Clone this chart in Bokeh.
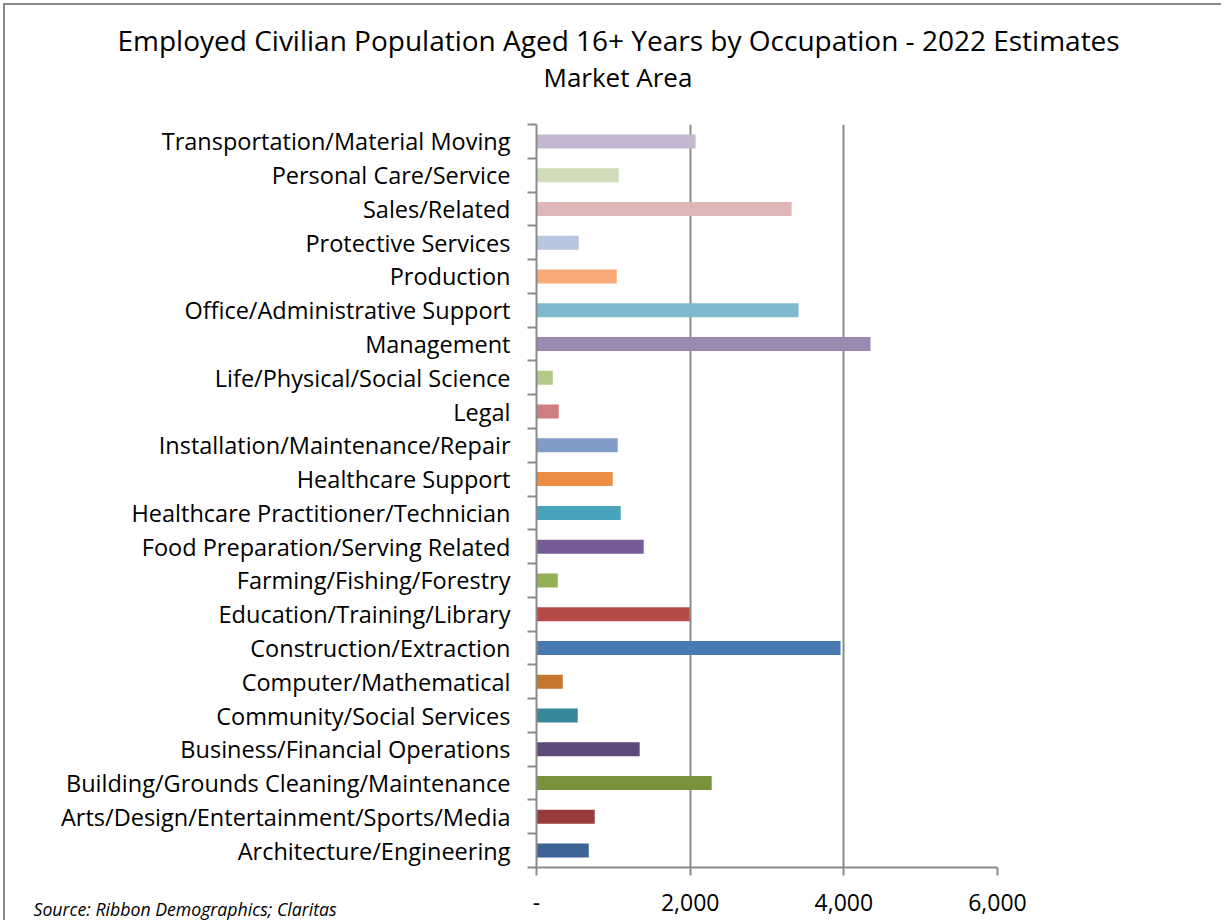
from bokeh.plotting import figure
from bokeh.models import FixedTicker, NumeralTickFormatter, Range1d, ColumnDataSource, Title
from bokeh.embed import file_html
from bokeh.resources import INLINE

# ---- data (bottom to top) ----
categories = [
    "Architecture/Engineering",
    "Arts/Design/Entertainment/Sports/Media",
    "Building/Grounds Cleaning/Maintenance",
    "Business/Financial Operations",
    "Community/Social Services",
    "Computer/Mathematical",
    "Construction/Extraction",
    "Education/Training/Library",
    "Farming/Fishing/Forestry",
    "Food Preparation/Serving Related",
    "Healthcare Practitioner/Technician",
    "Healthcare Support",
    "Installation/Maintenance/Repair",
    "Legal",
    "Life/Physical/Social Science",
    "Management",
    "Office/Administrative Support",
    "Production",
    "Protective Services",
    "Sales/Related",
    "Personal Care/Service",
    "Transportation/Material Moving",
]
values = [680, 758, 2280, 1343, 537, 342, 3957, 1994, 277, 1395, 1096,
          992, 1057, 290, 212, 4347, 3411, 1044, 550, 3320, 1070, 2071]
colors = ["#3C6497", "#963C3B", "#77933C", "#604A7B", "#37889B", "#C4772F",
          "#4879B1", "#B54A47", "#93B152", "#775D98", "#47A2BA", "#EB8D43",
          "#7F9CC7", "#CF7F80", "#B2CA87", "#9B89B4", "#7FB9CF", "#F8AB77",
          "#B7C5DF", "#DFB7B7", "#D0DCB8", "#C3B8D0"]
x_ticks = [0, 2000, 4000, 6000]
title_text = "Employed Civilian Population Aged 16+ Years by Occupation - 2022 Estimates"
subtitle_text = "Market Area"
source_text = "Source: Ribbon Demographics; Claritas"

FONT = "Open Sans"
GRAY = "#8A8A8A"

n = len(categories)
ypos = [i + 0.5 for i in range(n)]
src = ColumnDataSource(dict(y=ypos, v=values, c=colors))

p = figure(width=1218, height=917, output_backend="svg", toolbar_location=None,
           x_range=Range1d(0, 6000), y_range=Range1d(0, n),
           min_border_left=531, min_border_right=226,
           min_border_top=119, min_border_bottom=55)
p.styles = {"position": "relative", "left": "5px", "top": "5px",
            "box-shadow": f"-2px -2px 0px 0px {GRAY}"}
p.outline_line_color = None
p.background_fill_color = "white"
p.border_fill_color = "white"

p.hbar(y="y", left=0, right="v", height=0.415, fill_color="c", line_color=None, source=src)

# x axis
xa = p.xaxis[0]
xa.ticker = FixedTicker(ticks=x_ticks)
xa.formatter = NumeralTickFormatter(format="0,0")
xa.major_label_overrides = {0: "-"}
xa.axis_line_color = GRAY
xa.axis_line_width = 2
xa.major_tick_line_color = GRAY
xa.major_tick_line_width = 2
xa.major_tick_out = 8
xa.major_tick_in = 0
xa.minor_tick_line_color = None
xa.major_label_standoff = 18
xa.major_label_text_font = FONT
xa.major_label_text_font_size = "23px"
xa.major_label_text_color = "black"

# y axis
ya = p.yaxis[0]
ya.ticker = FixedTicker(ticks=ypos, minor_ticks=list(range(n + 1)))
ya.major_label_overrides = {yv: c for yv, c in zip(ypos, categories)}
ya.axis_line_color = GRAY
ya.axis_line_width = 2
ya.major_tick_line_color = None
ya.major_tick_out = 0
ya.major_tick_in = 0
ya.minor_tick_line_color = GRAY
ya.minor_tick_line_width = 2
ya.minor_tick_out = 9
ya.minor_tick_in = 0
ya.major_label_standoff = 17
ya.major_label_text_font = FONT
ya.major_label_text_font_size = "23.5px"
ya.major_label_text_color = "black"

# grid
p.xgrid.ticker = FixedTicker(ticks=x_ticks)
p.xgrid.grid_line_color = GRAY
p.xgrid.grid_line_width = 2
p.ygrid.grid_line_color = None

# titles (subtitle is added first so that it sits next to the plot area)
p.add_layout(Title(text=subtitle_text, align="left", offset=7, vertical_align="bottom",
                   standoff=60, text_font=FONT, text_font_size="26px",
                   text_font_style="normal", text_color="black"), "above")
p.add_layout(Title(text=title_text, align="left", offset=-419, vertical_align="bottom",
                   standoff=-65, text_font=FONT, text_font_size="28px",
                   text_font_style="normal", text_color="black"), "above")
p.add_layout(Title(text=source_text, align="left", offset=-503, vertical_align="top",
                   standoff=-33, text_font=FONT, text_font_size="17.7px",
                   text_font_style="italic", text_color="black"), "below")

open("out.html", "w").write(file_html(p, INLINE))
